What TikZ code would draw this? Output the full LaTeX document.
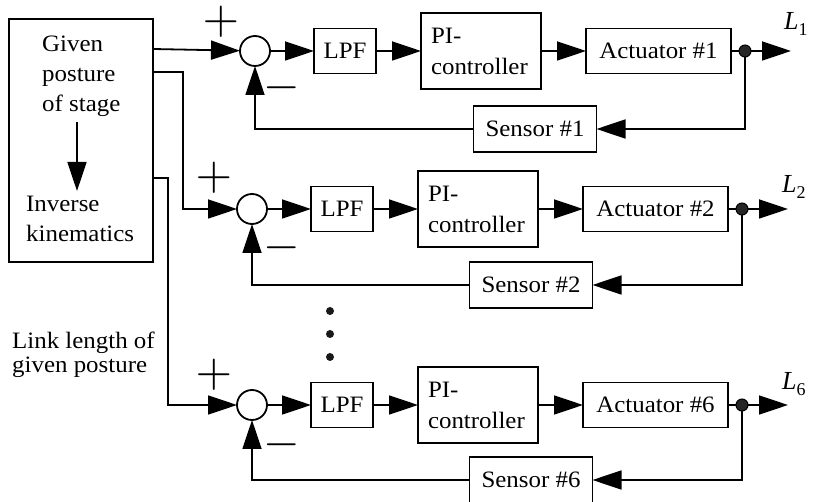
\documentclass[tikz,border=0pt]{standalone}
\usepackage{fontspec}
\usepackage{graphicx}
\setmainfont{Liberation Serif}[FakeStretch=1.06]
\newfontfamily\labelfont{Liberation Serif}
\usetikzlibrary{arrows.meta, positioning}

\begin{document}
\begin{tikzpicture}[
    x=1pt, y=-1pt,
    font=\fontsize{23.5}{30}\selectfont,
    node distance=44pt,
    block/.style={
      draw,
      line width=1.8pt,
      outer sep=0pt,
      minimum height=45pt,
      inner sep=2pt
    },
    lpf/.style={block, minimum width=62pt},
    pictrl/.style={
      block,
      minimum width=120pt,
      minimum height=76pt,
      text width=100pt,
      inner xsep=10pt,
      align=left,
      font=\fontsize{23.5}{31}\selectfont
    },
    actuator/.style={block, minimum width=145pt},
    sensor/.style={block, minimum width=123pt, minimum height=46pt},
    sumnode/.style={
      circle,
      draw,
      line width=1.8pt,
      outer sep=0pt,
      minimum size=30pt,
      inner sep=0pt
    },
    tapdot/.style={
      circle,
      draw,
      fill=black!85,
      line width=1pt,
      minimum size=12pt,
      inner sep=0pt,
      outer sep=0pt
    },
    dotmark/.style={circle, fill=black!90, minimum size=8pt, inner sep=0pt},
    sign/.style={inner sep=0pt, font=\fontsize{10}{10}\selectfont},
    outlabel/.style={inner sep=0pt, anchor=base west, font=\labelfont\fontsize{26}{26}\selectfont},
    note/.style={inner sep=0pt, align=left, anchor=north west},
    arrow/.style={
      -{Triangle[length=29pt, width=19pt]},
      line width=1.8pt
    },
    link/.style={line width=1.8pt}
  ]
    \useasboundingbox (0,0) rectangle (817,502);

    % Posture and inverse kinematics block
    \node[block, minimum width=144pt, minimum height=243pt] (stage) at (81,140.5) {};
    \node[note] (given) at (42,36) {Given\\posture\\of stage};
    \node[note] (inverse) at (26,196) {Inverse\\kinematics};
    \coordinate (kin) at (77,0);
    \draw[arrow, shorten <=5pt, shorten >=5pt] (given.south -| kin) -- (inverse.north -| kin);
    \node[note, font=\fontsize{23.5}{24}\selectfont] (linklen) at (12,332) {Link length of\\given posture};

    % Loop 1
    \node[sumnode] (sum1) at (255,51) {};
    \node[lpf, right=of sum1] (lpf1) {LPF};
    \node[pictrl, right=45pt of lpf1] (pi1) {PI-\\controller};
    \node[actuator, right=45pt of pi1] (act1) {Actuator \#1};
    \node[tapdot, right=8pt of act1] (tap1) {};
    \coordinate[right=40pt of tap1] (y1);
    \node[sensor] (sen1) at (535,129) {Sensor \#1};
    \node[sign] (plus1) at (221,22) {\scalebox{4.7}{$+$}};
    \node[sign] (minus1) at (282,88) {\scalebox{4.7}{$-$}};
    \node[outlabel] (l1) at (784,30) {\textit{L}\raisebox{-6pt}{\fontsize{18}{18}\selectfont 1}};

    % Loop 2
    \node[sumnode] (sum2) at (252,209) {};
    \node[lpf, right=of sum2] (lpf2) {LPF};
    \node[pictrl, right=45pt of lpf2] (pi2) {PI-\\controller};
    \node[actuator, right=45pt of pi2] (act2) {Actuator \#2};
    \node[tapdot, right=8pt of act2] (tap2) {};
    \coordinate[right=40pt of tap2] (y2);
    \node[sensor] (sen2) at (531,285) {Sensor \#2};
    \node[sign] (plus2) at (214,178) {\scalebox{4.7}{$+$}};
    \node[sign] (minus2) at (282,248) {\scalebox{4.7}{$-$}};
    \node[outlabel] (l2) at (782,193) {\textit{L}\raisebox{-6pt}{\fontsize{18}{18}\selectfont 2}};

    % Loop 6
    \node[sumnode] (sum3) at (252,405) {};
    \node[lpf, right=of sum3] (lpf3) {LPF};
    \node[pictrl, right=45pt of lpf3] (pi3) {PI-\\controller};
    \node[actuator, right=45pt of pi3] (act3) {Actuator \#6};
    \node[tapdot, right=8pt of act3] (tap3) {};
    \coordinate[right=40pt of tap3] (y3);
    \node[sensor] (sen3) at (531,480) {Sensor \#6};
    \node[sign] (plus3) at (214,375) {\scalebox{4.7}{$+$}};
    \node[sign] (minus3) at (282,445) {\scalebox{4.7}{$-$}};
    \node[outlabel] (l3) at (782,390) {\textit{L}\raisebox{-6pt}{\fontsize{18}{18}\selectfont 6}};

    % Vertical ellipsis between loops
    \node[dotmark] (vdot1) at (330,311) {};
    \node[dotmark] (vdot2) at (330,334) {};
    \node[dotmark] (vdot3) at (330,357) {};

    % Reference inputs
    \draw[arrow] ([yshift=-30pt]stage.north east) -- (sum1);
    \draw[arrow] ([yshift=-53pt]stage.north east) -- ++(30,0) |- (sum2);
    \draw[arrow] ([yshift=-159pt]stage.north east) -- ++(15,0) |- (sum3);

    % Forward paths
    \draw[arrow] (sum1) -- (lpf1);
    \draw[arrow] (lpf1) -- (pi1);
    \draw[arrow] (pi1) -- (act1);
    \draw[link] (act1) -- (tap1);
    \draw[arrow] (tap1) -- (y1);

    \draw[arrow] (sum2) -- (lpf2);
    \draw[arrow] (lpf2) -- (pi2);
    \draw[arrow] (pi2) -- (act2);
    \draw[link] (act2) -- (tap2);
    \draw[arrow] (tap2) -- (y2);

    \draw[arrow] (sum3) -- (lpf3);
    \draw[arrow] (lpf3) -- (pi3);
    \draw[arrow] (pi3) -- (act3);
    \draw[link] (act3) -- (tap3);
    \draw[arrow] (tap3) -- (y3);

    % Feedback paths
    \draw[arrow] (tap1) |- (sen1);
    \draw[arrow] (sen1) -| (sum1);
    \draw[arrow] (tap2) |- (sen2);
    \draw[arrow] (sen2) -| (sum2);
    \draw[arrow] (tap3) |- (sen3);
    \draw[arrow] (sen3) -| (sum3);

  \end{tikzpicture}
\end{document}
